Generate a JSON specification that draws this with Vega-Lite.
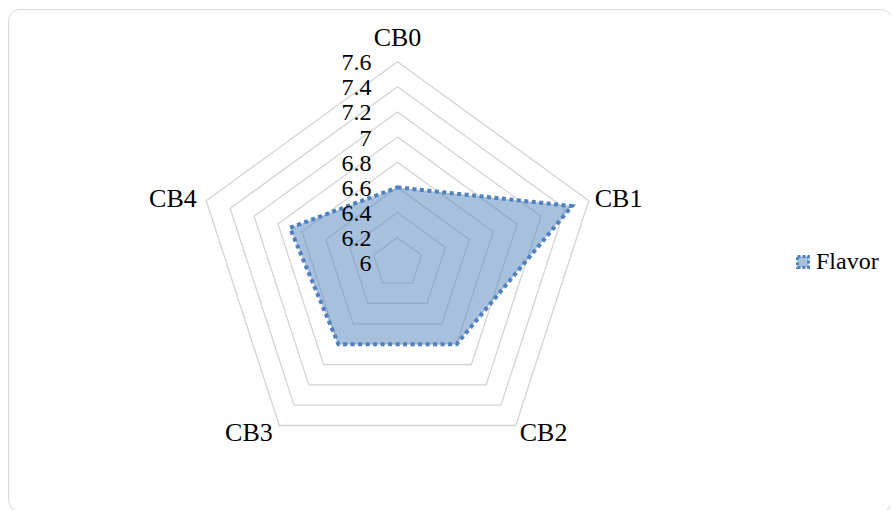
{
  "$schema": "https://vega.github.io/schema/vega-lite/v6.json",
  "width": 884,
  "height": 502,
  "autosize": {"type": "none"},
  "padding": {"left": 8, "top": 9, "right": 0, "bottom": 0},
  "background": "white",
  "config": {
    "view": {"stroke": "#d9d9d9", "strokeWidth": 1, "cornerRadius": 12},
    "font": "Liberation Serif",
    "text": {"font": "Liberation Serif", "fontSize": 24, "color": "#000000"}
  },
  "datasets": {
    "scores": [
      {"category": "CB0", "value": 6.6, "series": "Flavor"},
      {"category": "CB1", "value": 7.46, "series": "Flavor"},
      {"category": "CB2", "value": 6.8, "series": "Flavor"},
      {"category": "CB3", "value": 6.8, "series": "Flavor"},
      {"category": "CB4", "value": 6.9, "series": "Flavor"}
    ],
    "rings": [
      {"ring": 6.2}, {"ring": 6.4}, {"ring": 6.6}, {"ring": 6.8},
      {"ring": 7.0}, {"ring": 7.2}, {"ring": 7.4}, {"ring": 7.6}
    ],
    "ticks": [
      {"tick": 6.0}, {"tick": 6.2}, {"tick": 6.4}, {"tick": 6.6}, {"tick": 6.8},
      {"tick": 7.0}, {"tick": 7.2}, {"tick": 7.4}, {"tick": 7.6}
    ],
    "cats": [
      {"category": "CB0"}, {"category": "CB1"}, {"category": "CB2"}, {"category": "CB3"}, {"category": "CB4"}
    ]
  },
  "encoding": {
    "x": {"field": "px", "type": "quantitative", "scale": {"domain": [-3.0987, 3.934], "nice": false, "zero": false}, "axis": null},
    "y": {"field": "py", "type": "quantitative", "scale": {"domain": [-1.9746, 2.0191], "nice": false, "zero": false}, "axis": null}
  },
  "layer": [
    {
      "data": {"name": "rings"},
      "transform": [
        {"calculate": "[0,1,2,3,4]", "as": "k"},
        {"flatten": ["k"]},
        {"calculate": "(datum.ring - 6) * sin(datum.k * 2 * PI / 5)", "as": "px"},
        {"calculate": "(datum.ring - 6) * cos(datum.k * 2 * PI / 5)", "as": "py"}
      ],
      "mark": {"type": "line", "interpolate": "linear-closed", "stroke": "#d4d4d4", "strokeWidth": 1.3},
      "encoding": {
        "detail": {"field": "ring", "type": "nominal"},
        "order": {"field": "k", "type": "quantitative"}
      }
    },
    {
      "data": {"name": "scores"},
      "transform": [
        {"calculate": "indexof(['CB0','CB1','CB2','CB3','CB4'], datum.category)", "as": "k"},
        {"calculate": "(datum.value - 6) * sin(datum.k * 2 * PI / 5)", "as": "px"},
        {"calculate": "(datum.value - 6) * cos(datum.k * 2 * PI / 5)", "as": "py"}
      ],
      "mark": {"type": "line", "interpolate": "linear-closed", "fill": "#4F81BD", "fillOpacity": 0.5, "strokeOpacity": 0},
      "encoding": {
        "order": {"field": "k", "type": "quantitative"}
      }
    },
    {
      "data": {"name": "scores"},
      "transform": [
        {"calculate": "indexof(['CB0','CB1','CB2','CB3','CB4'], datum.category)", "as": "k"},
        {"calculate": "(datum.value - 6) * sin(datum.k * 2 * PI / 5)", "as": "px"},
        {"calculate": "(datum.value - 6) * cos(datum.k * 2 * PI / 5)", "as": "py"}
      ],
      "mark": {"type": "line", "interpolate": "linear-closed", "strokeWidth": 4, "strokeDash": [4, 3.5], "strokeCap": "butt"},
      "encoding": {
        "order": {"field": "k", "type": "quantitative"},
        "color": {
          "field": "series", "type": "nominal",
          "scale": {"domain": ["Flavor"], "range": ["#4F81BD"]},
          "legend": {
            "orient": "none", "legendX": 783, "legendY": 241, "title": null,
            "symbolType": "square", "symbolSize": 120,
            "symbolFillColor": "#A7C0DE", "symbolStrokeColor": "#4F81BD",
            "symbolStrokeWidth": 3, "symbolDash": [3, 2],
            "labelFont": "Liberation Serif", "labelFontSize": 24, "labelColor": "#000000",
            "labelOffset": 1, "padding": 0
          }
        }
      }
    },
    {
      "data": {"name": "ticks"},
      "transform": [
        {"calculate": "0", "as": "px"},
        {"calculate": "datum.tick - 6", "as": "py"}
      ],
      "mark": {"type": "text", "align": "right", "baseline": "middle", "dx": -26, "dy": 1.5},
      "encoding": {"text": {"field": "tick", "type": "quantitative", "format": ".1~f"}}
    },
    {
      "data": {"name": "cats"},
      "transform": [
        {"calculate": "indexof(['CB0','CB1','CB2','CB3','CB4'], datum.category)", "as": "k"},
        {"calculate": "1.6 * sin(datum.k * 2 * PI / 5)", "as": "px"},
        {"calculate": "1.6 * cos(datum.k * 2 * PI / 5)", "as": "py"}
      ],
      "layer": [
        {
          "transform": [{"filter": "datum.category == 'CB0'"}],
          "mark": {"type": "text", "align": "center", "baseline": "middle", "dy": -23.5, "fontSize": 26},
          "encoding": {"text": {"field": "category", "type": "nominal"}}
        },
        {
          "transform": [{"filter": "datum.category == 'CB1'"}],
          "mark": {"type": "text", "align": "left", "baseline": "middle", "dx": 6, "dy": -2, "fontSize": 26},
          "encoding": {"text": {"field": "category", "type": "nominal"}}
        },
        {
          "transform": [{"filter": "datum.category == 'CB2'"}],
          "mark": {"type": "text", "align": "left", "baseline": "middle", "dx": 4, "dy": 7, "fontSize": 26},
          "encoding": {"text": {"field": "category", "type": "nominal"}}
        },
        {
          "transform": [{"filter": "datum.category == 'CB3'"}],
          "mark": {"type": "text", "align": "right", "baseline": "middle", "dx": -6.5, "dy": 7, "fontSize": 26},
          "encoding": {"text": {"field": "category", "type": "nominal"}}
        },
        {
          "transform": [{"filter": "datum.category == 'CB4'"}],
          "mark": {"type": "text", "align": "right", "baseline": "middle", "dx": -9.5, "dy": -2, "fontSize": 26},
          "encoding": {"text": {"field": "category", "type": "nominal"}}
        }
      ]
    }
  ]
}
